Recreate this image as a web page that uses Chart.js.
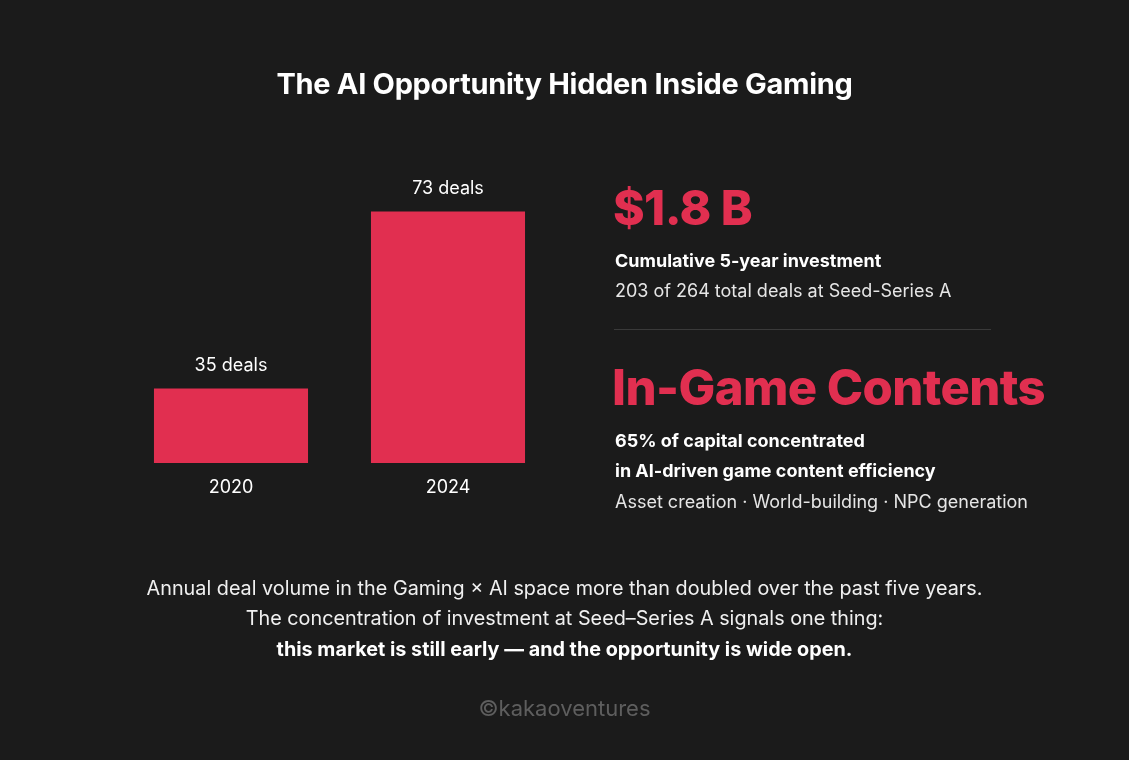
<!DOCTYPE html>
<html><head><meta charset="utf-8">
<script src="https://cdn.jsdelivr.net/npm/chart.js@4"></script>
<style>
html,body{margin:0;padding:0;background:#1b1b1b;width:1129px;height:760px;overflow:hidden;font-family:Inter,"Noto Sans",sans-serif;color:#fff}
#c{position:absolute;left:0;top:0}
.t{position:absolute;white-space:nowrap;line-height:1}
.red{color:#e12f50}
</style></head><body>
<canvas id="c" width="1129" height="760"></canvas>
<div class="t" style="left:0;width:1129px;text-align:center;top:69px;font-size:29px;font-weight:700;letter-spacing:-0.3px">The AI Opportunity Hidden Inside Gaming</div>
<div class="t red" style="left:613px;top:184px;font-size:48px;font-weight:800;letter-spacing:-0.6px">$1.8 B</div>
<div class="t" style="left:615px;top:252px;font-size:18px;font-weight:700">Cumulative 5-year investment</div>
<div class="t" style="left:615px;top:282px;font-size:18px;color:#e6e6e6">203 of 264 total deals at Seed-Series A</div>
<div style="position:absolute;left:614px;top:329px;width:377px;height:1px;background:#3a3a3a"></div>
<div class="t red" style="left:612px;top:363px;font-size:49px;font-weight:800;letter-spacing:-0.6px">In-Game Contents</div>
<div class="t" style="left:615px;top:432px;font-size:18px;font-weight:700">65% of capital concentrated</div>
<div class="t" style="left:615px;top:462px;font-size:18px;font-weight:700">in AI-driven game content efficiency</div>
<div class="t" style="left:615px;top:493px;font-size:18px;color:#e6e6e6">Asset creation · World-building · NPC generation</div>
<div class="t" style="left:0;width:1129px;text-align:center;top:579px;font-size:19.8px;color:#f0f0f0">Annual deal volume in the Gaming × AI space more than doubled over the past five years.</div>
<div class="t" style="left:0;width:1129px;text-align:center;top:609px;font-size:19.8px;color:#f0f0f0">The concentration of investment at Seed–Series A signals one thing:</div>
<div class="t" style="left:0;width:1129px;text-align:center;top:640px;font-size:19.8px;font-weight:700">this market is still early — and the opportunity is wide open.</div>
<div class="t" style="left:0;width:1129px;text-align:center;top:697px;font-size:22px;color:#5e5e5e">©kakaoventures</div>
<script>
const categories=["2020","2024"];
const deals=[35,73];
const barLabels=["35 deals","73 deals"];
const labelPlugin={id:"lbl",afterDatasetsDraw(ch){
 const ctx=ch.ctx,meta=ch.getDatasetMeta(0);
 ctx.save();ctx.fillStyle="#fff";ctx.font="18px Inter, 'Noto Sans', sans-serif";ctx.textAlign="center";ctx.textBaseline="middle";
 meta.data.forEach((b,i)=>{ctx.fillText(barLabels[i],b.x,b.y-23);ctx.fillText(categories[i],b.x,ch.chartArea.bottom+25);});
 ctx.restore();}};
new Chart(document.getElementById("c"),{type:"bar",
 data:{labels:categories,datasets:[{data:deals,backgroundColor:"#e12f50",borderWidth:0,barPercentage:0.71,categoryPercentage:1}]},
 options:{responsive:false,animation:false,events:[],
  layout:{padding:{left:122.5,right:572.5,top:179,bottom:297}},
  plugins:{legend:{display:false},tooltip:{enabled:false}},
  scales:{x:{display:false},y:{display:false,min:19,max:80}}},
 plugins:[labelPlugin]});
</script>
</body></html>
